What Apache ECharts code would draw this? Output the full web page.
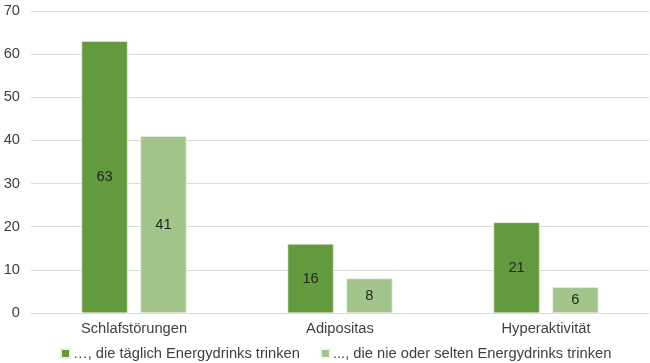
<!DOCTYPE html>
<html><head><meta charset="utf-8">
<script src="https://cdn.jsdelivr.net/npm/echarts@6/dist/echarts.min.js"></script>
<style>html,body{margin:0;padding:0;background:#fff}#c{width:650px;height:363px}</style>
</head><body><div id="c"></div>
<script>
const categories = ['Schlafstörungen', 'Adipositas', 'Hyperaktivität'];
const seriesNames = ['…, die täglich Energydrinks trinken', '..., die nie oder selten Energydrinks trinken'];
const daily = [63, 16, 21];
const rarely = [41, 8, 6];
const yTicks = [0, 10, 20, 30, 40, 50, 60, 70];

const font = 'Liberation Sans, Arial, sans-serif';
const fs = 14.7;
const chart = echarts.init(document.getElementById('c'), null, {renderer: 'canvas'});
chart.setOption({
  animation: false,
  textStyle: {fontFamily: font},
  grid: {left: 31, right: 1, top: 11, bottom: 50, containLabel: false},
  legend: {
    top: 341, left: 55, itemWidth: 9, itemHeight: 9, itemGap: 20,
    icon: 'rect', padding: [5, 5],
    textStyle: {fontFamily: font, fontSize: fs, color: '#404040', padding: [0, 0, 0, -2]},
    data: seriesNames
  },
  xAxis: {
    type: 'category', data: categories,
    axisLine: {lineStyle: {color: '#d9d9d9'}},
    axisTick: {show: false},
    axisLabel: {fontFamily: font, fontSize: fs, color: '#404040', margin: 8}
  },
  yAxis: {
    type: 'value', min: yTicks[0], max: yTicks[yTicks.length - 1], interval: 10,
    axisLine: {show: false}, axisTick: {show: false},
    splitLine: {lineStyle: {color: '#d9d9d9'}},
    axisLabel: {fontFamily: font, fontSize: fs, color: '#404040', margin: 11}
  },
  series: [
    {
      name: seriesNames[0], type: 'bar', data: daily, barWidth: 46, barGap: '28%',
      itemStyle: {color: '#639a3e', borderColor: '#e6f0df', borderWidth: 0.6},
      label: {show: true, position: 'inside', fontFamily: font, fontSize: fs, color: '#262626'}
    },
    {
      name: seriesNames[1], type: 'bar', data: rarely, barWidth: 46,
      itemStyle: {color: '#a2c58b', borderColor: '#eef5e9', borderWidth: 0.6},
      label: {show: true, position: 'inside', fontFamily: font, fontSize: fs, color: '#262626'}
    }
  ]
});
</script></body></html>
